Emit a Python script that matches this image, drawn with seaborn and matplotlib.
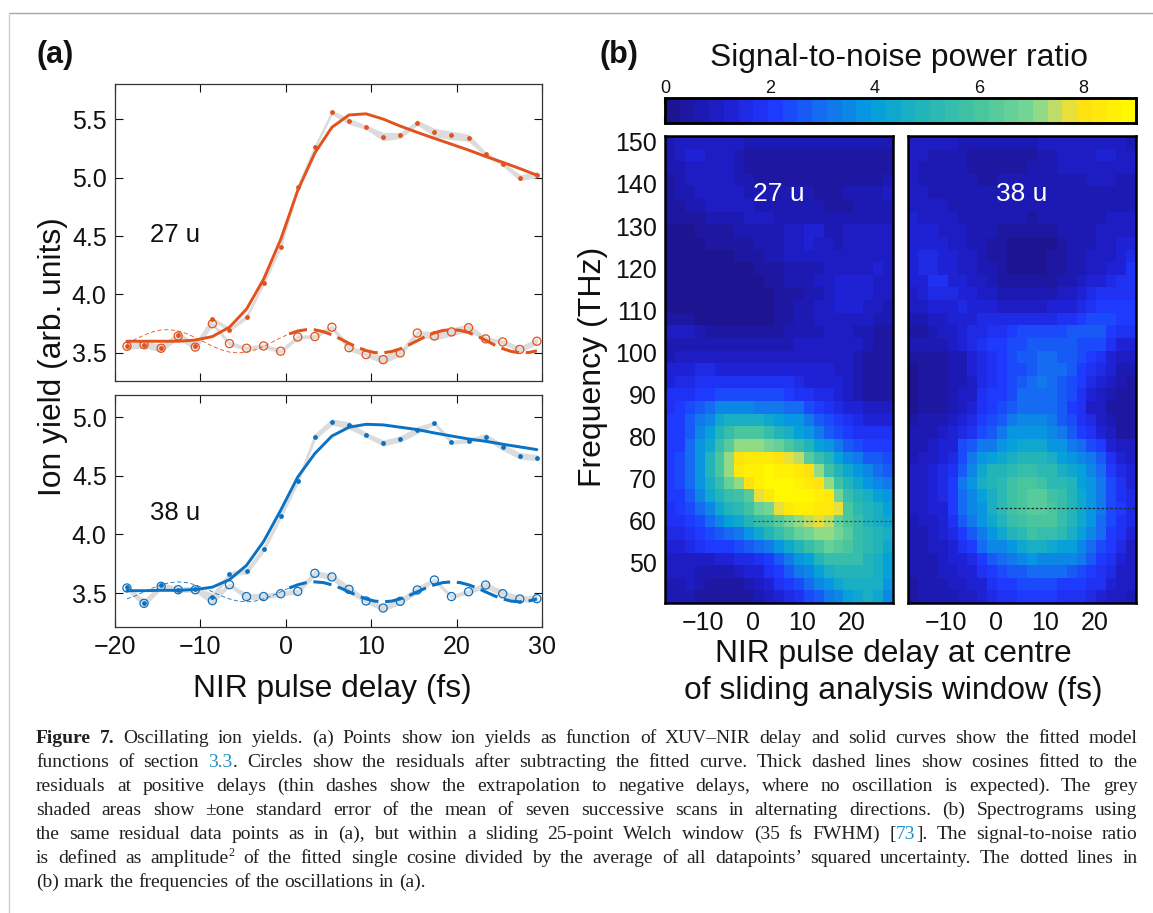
"""
Oscillating ion yields: fitted delay scans (a) and SNR spectrograms (b)
"""

import re

import matplotlib
matplotlib.use("Agg")
import matplotlib.pyplot as plt
from matplotlib.colors import LinearSegmentedColormap
from matplotlib.lines import Line2D
import pandas as pd
import seaborn as sns

# --- panel (a) data ---
delay = [-18.6, -16.6, -14.6, -12.6, -10.6, -8.6, -6.6, -4.6, -2.6, -0.6, 1.4, 3.4, 5.4,
         7.4, 9.4, 11.4, 13.4, 15.4, 17.4, 19.4, 21.4, 23.4, 25.4, 27.4, 29.4]

yield_27 = [3.56, 3.57, 3.545, 3.65, 3.56, 3.79, 3.70, 3.81, 4.10, 4.41, 4.92, 5.26, 5.557,
            5.48, 5.43, 5.35, 5.36, 5.47, 5.386, 5.36, 5.34, 5.20, 5.115, 5.00, 5.025]
fit_27 = [3.60, 3.60, 3.60, 3.60, 3.61, 3.64, 3.72, 3.875, 4.13, 4.47, 4.89, 5.21, 5.43,
          5.535, 5.545, 5.50, 5.44, 5.386, 5.335, 5.285, 5.235, 5.18, 5.13, 5.077, 5.02]
resid_27 = [3.557, 3.57, 3.54, 3.645, 3.55, 3.75, 3.58, 3.54, 3.56, 3.515, 3.636, 3.64, 3.72,
            3.545, 3.486, 3.443, 3.50, 3.67, 3.645, 3.68, 3.716, 3.62, 3.594, 3.53, 3.60]
err_27 = [0.02, 0.02, 0.025, 0.02, 0.02, 0.01, 0.012, 0.012, 0.012, 0.012, 0.012, 0.01, 0.012,
          0.02, 0.012, 0.03, 0.02, 0.015, 0.03, 0.03, 0.025, 0.012, 0.012, 0.02, 0.02]

yield_38 = [3.548, 3.415, 3.565, 3.528, 3.537, 3.466, 3.665, 3.685, 3.876, 4.16, 4.454, 4.835, 4.96,
            4.93, 4.85, 4.78, 4.815, 4.89, 4.95, 4.787, 4.80, 4.835, 4.745, 4.67, 4.655]
fit_38 = [3.52, 3.52, 3.523, 3.523, 3.53, 3.55, 3.614, 3.736, 3.94, 4.206, 4.49, 4.69, 4.84,
          4.915, 4.94, 4.935, 4.915, 4.895, 4.866, 4.84, 4.815, 4.795, 4.77, 4.747, 4.724]
resid_38 = [3.543, 3.412, 3.557, 3.528, 3.528, 3.435, 3.571, 3.47, 3.47, 3.494, 3.514, 3.668, 3.637,
            3.531, 3.432, 3.372, 3.429, 3.526, 3.611, 3.47, 3.511, 3.568, 3.494, 3.449, 3.452]
err_38 = [0.015, 0.02, 0.02, 0.015, 0.015, 0.025, 0.01, 0.02, 0.02, 0.015, 0.015, 0.02, 0.02,
          0.025, 0.015, 0.02, 0.02, 0.025, 0.01, 0.012, 0.012, 0.02, 0.022, 0.022, 0.02]

# cosine fits, 1 fs steps
cos_delay = [-18.6, -17.6, -16.6, -15.6, -14.6, -13.6, -12.6, -11.6, -10.6, -9.6, -8.6, -7.6, -6.6,
             -5.6, -4.6, -3.6, -2.6, -1.6, -0.6, 0.4, 1.4, 2.4, 3.4, 4.4, 5.4, 6.4, 7.4, 8.4, 9.4,
             10.4, 11.4, 12.4, 13.4, 14.4, 15.4, 16.4, 17.4, 18.4, 19.4, 20.4, 21.4, 22.4, 23.4,
             24.4, 25.4, 26.4, 27.4, 28.4, 29.4]
cos_27 = [3.58, 3.618, 3.652, 3.68, 3.697, 3.699, 3.688, 3.665, 3.632, 3.595, 3.558, 3.528, 3.507,
          3.50, 3.507, 3.526, 3.556, 3.592, 3.63, 3.663, 3.687, 3.699, 3.697, 3.682, 3.655, 3.62,
          3.582, 3.548, 3.52, 3.503, 3.501, 3.512, 3.535, 3.568, 3.605, 3.642, 3.672, 3.692, 3.70,
          3.693, 3.674, 3.644, 3.608, 3.57, 3.537, 3.513, 3.501, 3.503, 3.518]
cos_38 = [3.45, 3.477, 3.51, 3.543, 3.57, 3.589, 3.595, 3.589, 3.57, 3.543, 3.51, 3.477, 3.45,
          3.431, 3.425, 3.431, 3.45, 3.477, 3.51, 3.543, 3.57, 3.589, 3.595, 3.589, 3.57, 3.543,
          3.51, 3.477, 3.45, 3.431, 3.425, 3.431, 3.45, 3.477, 3.51, 3.543, 3.57, 3.589, 3.595,
          3.589, 3.57, 3.543, 3.51, 3.477, 3.45, 3.431, 3.425, 3.431, 3.45]

# --- panel (b) data: rows run from the highest frequency to the lowest ---
map_delay = [-16.7, -14.7, -12.7, -10.7, -8.7, -6.7, -4.7, -2.7, -0.7, 1.3, 3.3, 5.3, 7.3, 9.3,
             11.3, 13.3, 15.3, 17.3, 19.3, 21.3, 23.3, 25.3, 27.3]
map_freq = [149.9, 146.9, 143.9, 140.9, 137.9, 134.9, 131.9, 128.9, 125.9, 122.9, 119.9, 116.9, 113.9,
            110.9, 107.9, 104.9, 101.9, 98.9, 95.9, 92.9, 89.9, 86.9, 83.9, 80.9, 77.9, 74.9, 71.9,
            68.9, 65.9, 62.9, 59.9, 56.9, 53.9, 50.9, 47.9, 44.9, 41.9]

snr_27 = [
    [.8, 1.0, 1.1, 1.1, 1.0, 1.0, .9, .9, .8, .7, .7, .6, .6, .6, .6, .6, .6, .6, .6, .6, .6, .6, .6],
    [.7, .9, 1.2, 1.3, 1.0, 1.0, .9, .7, .5, .5, .5, .5, .5, .5, .5, .5, .5, .5, .5, .5, .5, .5, .5],
    [.7, .8, 1.0, 1.1, 1.0, 1.0, .9, .7, .5, .5, .5, .5, .5, .5, .5, .5, .5, .5, .5, .5, .5, .5, .5],
    [.5, .8, .9, 1.0, 1.0, .9, .9, .8, .6, .5, .5, .5, .5, .5, .5, .5, .5, .5, .5, .5, .5, .5, .8],
    [.4, .6, .8, .9, 1.0, .9, .9, .9, .8, .7, .7, .6, .6, .6, .6, .5, .5, .5, .6, .7, .7, .8, .9],
    [.4, .5, .7, .8, .9, .9, .9, .9, .9, .8, .8, .8, .7, .7, .7, .7, .5, .4, .5, .7, .7, .7, .8],
    [.3, .3, .4, .5, .7, .8, .8, .8, .9, .9, .9, .8, .8, .8, .8, .8, .7, .6, .7, .8, .8, .8, .7],
    [.2, .2, .2, .3, .3, .4, .5, .6, .6, .7, .7, .8, .9, 1.1, 1.2, 1.2, .8, .8, .9, 1.0, 1.0, 1.0, 1.0],
    [.2, .2, .2, .2, .3, .3, .3, .3, .5, .7, .8, .8, .9, 1.1, 1.2, 1.1, .9, .7, 1.0, 1.0, 1.0, 1.0, 1.0],
    [.2, .2, .2, .2, .2, .2, .2, .3, .3, .5, .6, .7, .9, 1.0, 1.0, 1.0, 1.1, 1.1, 1.1, 1.0, 1.0, 1.0, .9],
    [.2, .2, .2, .2, .2, .2, .2, .2, .2, .3, .4, .5, .6, .7, .7, .8, 1.0, 1.0, 1.1, 1.1, 1.1, 1.2, .9],
    [.2, .2, .2, .2, .2, .2, .2, .2, .2, .2, .3, .5, .6, .8, .8, .9, 1.0, 1.2, 1.3, 1.3, 1.2, 1.0, .9],
    [.2, .2, .2, .2, .2, .2, .2, .2, .2, .2, .2, .3, .4, .5, .8, .8, 1.0, 1.2, 1.3, 1.3, 1.3, 1.0, .9],
    [.2, .2, .2, .2, .2, .2, .2, .2, .2, .2, .2, .3, .4, .7, .8, .9, 1.0, 1.2, 1.3, 1.3, 1.0, .9, .6],
    [.3, .3, .3, .2, .2, .2, .2, .2, .2, .2, .2, .3, .4, .6, .8, .9, 1.0, 1.1, 1.1, 1.0, .9, .8, .6],
    [.9, .9, .9, .6, .4, .3, .3, .3, .3, .3, .4, .5, .6, .6, .8, .8, .9, .9, .9, .8, .7, .5, .4],
    [.6, .7, .7, .7, .7, .6, .6, .6, .6, .6, .6, .7, .7, .9, 1.0, 1.0, 1.0, 1.0, 1.0, .9, .7, .5, .5],
    [.8, .9, 1.0, 1.0, .9, .9, .9, .9, .9, 1.0, 1.0, 1.0, 1.1, 1.1, 1.1, 1.1, 1.1, 1.0, .9, .7, .5, .5, .5],
    [1.2, 1.3, 1.4, 1.5, 1.5, 1.4, 1.4, 1.4, 1.4, 1.4, 1.4, 1.4, 1.3, 1.3, 1.3, 1.2, 1.2, 1.1, .9, .7, .5, .4, .4],
    [1.4, 1.5, 1.6, 1.7, 1.7, 1.9, 1.9, 1.9, 1.9, 1.9, 1.8, 1.8, 1.7, 1.6, 1.4, 1.3, 1.3, 1.2, 1.0, .7, .4, .4, .4],
    [1.7, 1.8, 1.9, 2.1, 2.2, 2.4, 2.5, 2.5, 2.5, 2.4, 2.3, 2.3, 2.1, 1.9, 1.7, 1.5, 1.5, 1.4, 1.1, .8, .5, .5, .5],
    [1.8, 2.0, 2.4, 2.7, 3.0, 3.4, 3.6, 3.6, 3.4, 3.3, 3.3, 3.3, 3.0, 2.9, 2.4, 2.2, 1.9, 1.6, 1.4, 1.2, 1.1, 1.0, 1.0],
    [2.0, 2.1, 2.7, 3.1, 3.6, 4.3, 4.6, 4.7, 4.6, 4.5, 4.4, 4.2, 3.9, 3.7, 3.2, 2.8, 2.4, 2.1, 1.7, 1.5, 1.3, 1.3, 1.3],
    [2.0, 2.2, 2.8, 3.4, 4.0, 5.0, 5.6, 6.1, 6.1, 6.1, 5.6, 5.0, 4.5, 4.1, 3.8, 3.2, 2.7, 2.4, 2.1, 1.9, 1.7, 1.7, 1.7],
    [2.0, 2.2, 2.9, 3.7, 4.3, 5.5, 6.3, 7.3, 7.3, 7.3, 6.8, 6.5, 6.0, 5.6, 5.0, 4.2, 3.7, 3.2, 2.8, 2.4, 2.2, 2.0, 2.0],
    [2.1, 2.3, 3.0, 3.8, 4.8, 6.0, 7.2, 8.0, 8.2, 8.3, 8.3, 8.1, 7.7, 7.4, 6.3, 5.6, 4.9, 4.2, 3.6, 3.1, 2.8, 2.6, 2.5],
    [2.1, 2.3, 3.0, 3.8, 4.8, 6.0, 7.3, 8.2, 8.6, 8.7, 8.8, 8.7, 8.6, 8.3, 8.1, 7.3, 5.9, 4.9, 4.4, 3.9, 3.4, 3.0, 2.8],
    [2.1, 2.3, 3.0, 3.8, 4.6, 5.6, 6.5, 7.3, 8.1, 8.7, 8.9, 8.9, 8.8, 8.7, 8.3, 8.1, 7.2, 5.7, 5.0, 4.4, 3.9, 3.4, 3.2],
    [2.0, 2.2, 2.8, 3.4, 4.3, 5.0, 5.4, 5.9, 6.3, 7.6, 8.2, 8.9, 8.9, 8.9, 8.8, 8.5, 8.2, 6.9, 5.6, 5.0, 4.5, 4.0, 3.7],
    [1.9, 2.1, 2.5, 3.0, 3.6, 4.3, 4.8, 5.3, 5.9, 6.5, 7.0, 7.7, 8.3, 8.6, 8.6, 8.4, 8.2, 7.6, 6.0, 5.3, 4.8, 4.5, 4.2],
    [1.7, 1.9, 2.1, 2.5, 3.0, 3.5, 4.0, 4.4, 4.9, 5.4, 5.8, 6.3, 6.8, 7.2, 7.5, 7.6, 7.4, 6.6, 6.0, 5.4, 5.0, 4.7, 4.4],
    [1.5, 1.6, 1.9, 2.1, 2.4, 2.7, 3.0, 3.3, 3.7, 4.3, 5.0, 5.5, 6.1, 6.6, 7.0, 7.2, 7.2, 6.8, 6.2, 5.6, 5.2, 5.0, 4.6],
    [1.2, 1.3, 1.5, 1.7, 2.0, 2.1, 2.1, 2.4, 2.7, 3.0, 3.3, 3.8, 4.4, 5.0, 5.5, 6.0, 6.5, 6.4, 6.0, 5.6, 5.2, 4.9, 4.4],
    [1.0, 1.0, 1.1, 1.1, 1.1, 1.3, 1.4, 1.5, 1.6, 1.8, 2.2, 2.8, 3.3, 3.8, 4.2, 4.8, 5.4, 5.6, 5.6, 5.4, 5.0, 4.7, 4.2],
    [.9, .9, .9, .8, .7, .7, .7, 1.0, 1.2, 1.4, 1.7, 2.1, 2.6, 3.1, 3.6, 4.1, 4.5, 4.9, 5.0, 5.0, 4.9, 4.6, 4.0],
    [.7, .8, .9, .6, .4, .4, .4, .5, .8, 1.0, 1.3, 1.7, 2.1, 2.4, 2.9, 3.4, 3.8, 4.3, 4.5, 4.6, 4.7, 4.5, 3.8],
    [.6, .7, .8, .5, .3, .3, .4, .4, .5, .7, 1.0, 1.3, 1.6, 1.8, 2.3, 2.7, 3.1, 3.5, 4.0, 4.3, 4.5, 4.4, 3.6],
]

snr_38 = [
    [1.0, 1.0, 1.1, 1.0, 1.0, .8, .7, .7, .6, .7, .7, .7, .8, .9, 1.0, 1.0, 1.0, 1.0, 1.0, 1.0, .9, .9, .8],
    [.9, .9, .8, .8, .8, .6, .5, .4, .4, .4, .4, .4, .5, .6, .8, .9, 1.0, 1.0, 1.1, 1.2, 1.2, .9, .9],
    [1.0, .8, .8, .8, .8, .6, .5, .4, .4, .4, .4, .5, .6, .7, .8, .9, 1.0, 1.0, 1.0, 1.0, 1.0, 1.0, .9],
    [1.0, .8, .8, .8, .8, .6, .6, .5, .5, .6, .6, .6, .6, .7, .7, .7, .8, .8, .9, .9, .9, .8, .8],
    [1.1, .9, .8, .8, .8, .7, .6, .6, .7, .7, .7, .7, .7, .6, .6, .6, .7, .8, .8, .8, .8, .8, .8],
    [1.1, 1.0, 1.0, .9, .8, .8, .7, .7, .7, .6, .6, .6, .6, .6, .6, .6, .7, .7, .8, .8, .8, .8, .8],
    [1.2, 1.1, 1.1, 1.0, .9, .8, .7, .7, .6, .6, .6, .6, .5, .6, .6, .6, .7, .7, .8, .8, .9, .9, .9],
    [1.3, 1.3, 1.2, 1.1, 1.0, .9, .8, .7, .6, .5, .5, .3, .3, .4, .5, .6, .7, .8, .8, .9, 1.0, 1.1, 1.1],
    [1.4, 1.4, 1.4, 1.3, 1.1, 1.0, .8, .6, .5, .3, .2, .2, .2, .2, .2, .4, .7, .8, .8, 1.0, 1.1, 1.2, 1.3],
    [1.4, 1.6, 1.6, 1.4, 1.2, 1.1, .9, .6, .5, .3, .2, .2, .2, .2, .3, .4, .6, .8, 1.0, 1.1, 1.1, 1.4, 1.6],
    [1.4, 1.6, 1.6, 1.4, 1.3, 1.1, .9, .7, .6, .4, .2, .2, .2, .2, .3, .4, .6, .8, 1.0, 1.1, 1.2, 1.4, 1.7],
    [1.3, 1.4, 1.7, 1.7, 1.4, 1.2, 1.0, .9, .8, .4, .3, .3, .3, .4, .5, .6, .8, 1.1, 1.3, 1.4, 1.5, 1.7, 1.8],
    [1.0, 1.2, 1.6, 1.6, 1.5, 1.3, 1.2, 1.1, 1.0, .8, .8, .8, .8, .8, .8, 1.0, 1.1, 1.4, 1.6, 1.8, 1.9, 1.9, 1.9],
    [1.0, 1.1, 1.3, 1.3, 1.4, 1.5, 1.3, 1.2, 1.2, 1.1, 1.1, 1.0, 1.0, 1.0, 1.2, 1.2, 1.4, 1.5, 1.7, 2.1, 2.2, 2.1, 2.0],
    [.7, .8, 1.0, 1.1, 1.3, 1.3, 1.4, 1.5, 1.6, 1.6, 1.6, 1.6, 1.6, 1.6, 1.6, 1.7, 1.9, 2.2, 2.3, 2.5, 2.5, 2.2, 2.1],
    [.4, .5, .7, .9, 1.1, 1.3, 1.5, 1.6, 1.9, 1.9, 2.0, 2.3, 2.5, 2.5, 2.5, 2.5, 2.6, 2.7, 2.7, 2.6, 2.2, 1.9, 1.9],
    [.7, .6, .7, .8, 1.0, 1.4, 1.6, 1.8, 2.0, 2.2, 2.5, 2.5, 2.6, 2.7, 2.7, 2.7, 2.6, 2.4, 2.4, 2.3, 1.7, 1.3, 1.2],
    [.3, .4, .4, .5, .7, .7, 1.4, 1.6, 1.7, 2.0, 2.4, 2.8, 2.8, 2.9, 2.9, 2.8, 2.6, 2.4, 2.0, 1.8, 1.4, 1.0, 1.0],
    [.2, .3, .4, .5, .6, .7, 1.3, 1.6, 1.7, 2.0, 2.4, 2.5, 2.8, 3.0, 3.0, 3.0, 2.6, 2.2, 1.7, 1.5, 1.2, .7, .7],
    [.2, .3, .4, .5, .6, .8, 1.1, 1.6, 1.7, 2.1, 2.4, 2.6, 2.9, 3.2, 3.0, 2.8, 2.5, 2.0, 1.6, 1.3, 1.0, .6, .5],
    [.2, .3, .4, .5, .6, .9, 1.1, 1.7, 2.0, 2.2, 2.4, 2.9, 3.0, 3.0, 3.0, 2.8, 2.3, 1.8, 1.4, 1.1, .7, .4, .3],
    [.2, .3, .4, .4, .7, 1.0, 1.3, 1.8, 2.0, 2.4, 2.7, 2.9, 3.0, 3.0, 3.0, 2.7, 2.2, 1.7, 1.1, .9, .5, .3, .3],
    [.5, .6, .6, .7, 1.1, 1.3, 1.6, 2.1, 2.3, 2.8, 3.2, 3.5, 3.6, 3.4, 3.2, 2.8, 2.4, 1.9, 1.5, 1.1, .6, .4, .3],
    [.7, .7, .8, 1.0, 1.4, 1.6, 1.9, 2.5, 2.8, 3.2, 3.7, 3.9, 3.9, 3.7, 3.4, 3.2, 2.7, 2.2, 1.8, 1.3, .9, .5, .3],
    [.7, .8, 1.0, 1.2, 1.4, 2.3, 2.6, 3.1, 3.3, 3.7, 4.0, 4.3, 4.3, 4.3, 3.9, 3.7, 3.3, 2.9, 2.5, 2.0, 1.4, 1.0, .9],
    [.8, 1.0, 1.1, 1.3, 1.5, 2.3, 3.2, 3.7, 4.1, 4.4, 4.7, 4.8, 4.9, 4.9, 4.6, 4.2, 3.9, 3.5, 3.2, 2.6, 1.9, 1.3, .9],
    [.9, 1.1, 1.2, 1.5, 1.9, 2.7, 3.6, 4.3, 4.8, 5.0, 5.2, 5.4, 5.4, 5.3, 5.1, 4.7, 4.3, 4.0, 3.4, 2.9, 2.2, 1.6, 1.3],
    [1.0, 1.1, 1.3, 1.6, 2.2, 3.2, 3.8, 4.5, 4.8, 5.2, 5.8, 6.0, 6.0, 5.7, 5.3, 5.2, 4.8, 4.2, 3.7, 3.1, 2.5, 1.8, 1.4],
    [1.0, 1.1, 1.2, 1.5, 2.1, 3.0, 3.6, 4.2, 4.6, 5.3, 5.9, 6.1, 6.4, 6.4, 5.9, 5.5, 5.0, 4.3, 3.8, 3.2, 2.5, 1.9, 1.6],
    [1.0, 1.1, 1.2, 1.4, 2.0, 2.9, 3.4, 3.9, 4.5, 5.2, 5.9, 6.0, 6.3, 6.3, 6.0, 5.5, 5.0, 4.4, 3.8, 3.2, 2.5, 2.0, 1.6],
    [.8, 1.0, 1.1, 1.3, 1.9, 2.6, 3.3, 3.7, 4.3, 4.9, 5.6, 5.9, 6.1, 6.1, 6.0, 5.5, 4.9, 4.3, 3.7, 3.0, 2.4, 1.9, 1.6],
    [.7, .8, 1.0, 1.2, 1.5, 2.1, 2.8, 3.3, 3.8, 4.3, 5.0, 5.3, 5.7, 5.6, 5.6, 5.3, 4.7, 4.0, 3.5, 2.9, 2.2, 1.8, 1.3],
    [.7, .8, 1.0, 1.1, 1.4, 1.7, 2.1, 2.9, 3.4, 3.6, 3.9, 4.3, 4.6, 4.6, 4.4, 4.2, 4.0, 3.6, 3.0, 2.5, 2.1, 1.6, 1.1],
    [.6, .6, .8, 1.0, 1.2, 1.4, 1.6, 2.2, 2.7, 3.0, 3.3, 3.6, 3.7, 3.6, 3.6, 3.6, 3.4, 3.1, 2.6, 2.1, 1.8, 1.3, 1.0],
    [.6, .6, .7, .9, 1.0, 1.2, 1.4, 1.7, 2.2, 2.4, 2.7, 2.8, 3.0, 3.0, 3.0, 2.9, 2.8, 2.5, 2.2, 1.9, 1.5, 1.1, .9],
    [.5, .6, .6, .8, .9, 1.0, 1.2, 1.4, 1.7, 2.0, 2.2, 2.4, 2.4, 2.4, 2.3, 2.2, 2.1, 2.0, 1.9, 1.7, 1.4, 1.0, .9],
    [.5, .6, .6, .8, .8, 1.0, 1.1, 1.3, 1.5, 1.7, 1.9, 2.0, 2.1, 2.1, 2.0, 1.9, 1.8, 1.7, 1.5, 1.4, 1.1, .9, .8],
]

# frequencies of the oscillations (dotted lines in b)
osc_freq_27 = 60
osc_freq_38 = 63

# caption: each line is a list of (text, colour, weight, superscript)
BLK = "#231f20"
LNK = "#1f8fc4"
caption = [
    [("Figure 7.", BLK, "bold", False), (" Oscillating ion yields. (a) Points show ion yields as function of XUV\u2013NIR delay and solid curves show the fitted model", BLK, "normal", False)],
    [("functions of section", BLK, "normal", False), (" 3.3", LNK, "normal", False), (". Circles show the residuals after subtracting the fitted curve. Thick dashed lines show cosines fitted to the", BLK, "normal", False)],
    [("residuals at positive delays (thin dashes show the extrapolation to negative delays, where no oscillation is expected). The grey", BLK, "normal", False)],
    [("shaded areas show \u00b1one standard error of the mean of seven successive scans in alternating directions. (b) Spectrograms using", BLK, "normal", False)],
    [("the same residual data points as in (a), but within a sliding 25-point Welch window (35 fs FWHM) [", BLK, "normal", False), ("73", LNK, "normal", False), ("]. The signal-to-noise ratio", BLK, "normal", False)],
    [("is defined as amplitude", BLK, "normal", False), ("2", BLK, "normal", True), (" of the fitted single cosine divided by the average of all datapoints\u2019 squared uncertainty. The dotted lines in", BLK, "normal", False)],
    [("(b) mark the frequencies of the oscillations in (a).", BLK, "normal", False)],
]

ORANGE = "#e2521d"
BLUE = "#0a72c4"
BAND = "#dcdcdc"
W, H = 1153, 913

sns.set_theme(style="ticks")
plt.rcParams["font.family"] = ["Liberation Sans", "DejaVu Sans"]
plt.rcParams["text.color"] = "#111111"
plt.rcParams["xtick.color"] = "#111111"
plt.rcParams["ytick.color"] = "#111111"

fig = plt.figure(figsize=(W / 100, H / 100), dpi=100, facecolor="white")


def px_axes(left, top, right, bottom):
    return fig.add_axes([left / W, 1 - bottom / H, (right - left) / W, (bottom - top) / H])


def draw_scan(ax, dots, fit, resid, err, cos_vals, colour):
    lo = [d - e for d, e in zip(dots, err)]
    hi = [d + e for d, e in zip(dots, err)]
    ax.fill_between(delay, lo, hi, color=BAND, lw=1.0)
    lo = [d - e for d, e in zip(resid, err)]
    hi = [d + e for d, e in zip(resid, err)]
    ax.fill_between(delay, lo, hi, color=BAND, lw=1.0)

    sns.lineplot(x=delay, y=fit, color=colour, lw=2.1, ax=ax, errorbar=None)

    # thin dashes before zero delay, thick ones after
    thin = [i for i, t in enumerate(cos_delay) if t <= 0.4]
    thick = [i for i, t in enumerate(cos_delay) if t >= 0.4]
    ax.plot([cos_delay[i] for i in thin], [cos_vals[i] for i in thin], color=colour, lw=0.6, ls=(0, (5, 3)))
    ax.plot([cos_delay[i] for i in thick], [cos_vals[i] for i in thick], color=colour, lw=2.2, ls=(0, (6, 2.2)))

    sns.scatterplot(x=delay, y=dots, color=colour, s=12, linewidth=0, ax=ax)
    sns.scatterplot(x=delay, y=resid, facecolor="none", edgecolor=colour, s=34, linewidth=0.9, ax=ax)

    ax.set_xlim(-20, 30)
    ax.set_xticks([-20, -10, 0, 10, 20, 30])
    ax.tick_params(which="both", direction="in", top=True, right=True, length=5.5, width=0.8,
                   labelsize=18, pad=6)
    for s in ax.spines.values():
        s.set_linewidth(0.9)
        s.set_color("#333333")
    ax.patch.set_alpha(0)


# panel (a)
ax_27 = px_axes(115, 84, 542, 381)
draw_scan(ax_27, yield_27, fit_27, resid_27, err_27, cos_27, ORANGE)
ax_27.set_ylim(3.26, 5.8)
ax_27.set_yticks([3.5, 4.0, 4.5, 5.0, 5.5])
ax_27.set_yticklabels(["3.5", "4.0", "4.5", "5.0", "5.5"])
ax_27.tick_params(labelbottom=False)
ax_27.text(0.081, 0.49, "27 u", transform=ax_27.transAxes, fontsize=18.5, va="center")

ax_38 = px_axes(115, 395, 542, 627)
draw_scan(ax_38, yield_38, fit_38, resid_38, err_38, cos_38, BLUE)
ax_38.set_ylim(3.21, 5.19)
ax_38.set_yticks([3.5, 4.0, 4.5, 5.0])
ax_38.set_yticklabels(["3.5", "4.0", "4.5", "5.0"])
ax_38.set_xticklabels(["\u221220", "\u221210", "0", "10", "20", "30"])
ax_38.text(0.081, 0.49, "38 u", transform=ax_38.transAxes, fontsize=18.5, va="center")

fig.text(332 / W, 1 - 689 / H, "NIR pulse delay (fs)", fontsize=22.9, ha="center", va="center")
fig.text(53 / W, 1 - 357 / H, "Ion yield (arb. units)", fontsize=22.9, ha="center", va="center", rotation=90)
fig.text(36 / W, 1 - 55 / H, "(a)", fontsize=22, fontweight="bold", ha="left", va="center")
fig.text(599 / W, 1 - 55 / H, "(b)", fontsize=22, fontweight="bold", ha="left", va="center")

# panel (b)
snr_cmap = LinearSegmentedColormap.from_list(
    "snr",
    [(0.0, "#1c1490"), (1 / 9, "#1e1ecc"), (2 / 9, "#1f38ff"), (3 / 9, "#1470f0"), (4 / 9, "#05a0dc"),
     (5 / 9, "#25b5b8"), (6 / 9, "#45c4a0"), (7 / 9, "#75d595"), (7.3 / 9, "#95dc85"), (7.6 / 9, "#c8dc60"),
     (7.9 / 9, "#f0e030"), (8.1 / 9, "#ffe010"), (1.0, "#fff800")],
    N=32,
)

ax_b1 = px_axes(665, 136, 893, 603)
ax_b2 = px_axes(908, 136, 1136, 603)
cax = px_axes(665, 98, 1136, 123)


def to_col(t):
    # delay in fs to heatmap column position
    step = map_delay[1] - map_delay[0]
    return (t - map_delay[0]) / step + 0.5


def to_row(f):
    # frequency in THz to heatmap row position
    step = map_freq[0] - map_freq[1]
    return (map_freq[0] - f) / step + 0.5


def draw_map(ax, values, label, osc_freq, line_colour, **kws):
    df = pd.DataFrame(values, index=map_freq, columns=map_delay)
    sns.heatmap(df, ax=ax, cmap=snr_cmap, vmin=0, vmax=9, xticklabels=False, yticklabels=False, **kws)
    ax.set_xticks([to_col(t) for t in [-15, -10, -5, 0, 5, 10, 15, 20, 25]])
    ax.set_xticklabels(["", "\u221210", "", "0", "", "10", "", "20", ""])
    ax.set_yticks([to_row(f) for f in range(50, 151, 10)])
    ax.tick_params(direction="in", top=True, right=True, bottom=True, left=True, length=4.5, width=1.5,
                   color="black", labelsize=18, pad=6)
    for s in ax.spines.values():
        s.set_visible(True)
        s.set_linewidth(1.8)
        s.set_color("black")
    ax.add_line(Line2D([to_col(0), to_col(28)], [to_row(osc_freq)] * 2, color=line_colour, lw=0.9, ls=(0, (2, 1.5))))
    ax.text(0.5, 0.876, label, transform=ax.transAxes, color="white", fontsize=19, ha="center", va="center")


draw_map(ax_b1, snr_27, "27 u", osc_freq_27, "#2a5a5a", cbar_ax=cax, cbar_kws={"orientation": "horizontal"})
draw_map(ax_b2, snr_38, "38 u", osc_freq_38, "#1a2a30", cbar=False)
ax_b1.set_yticklabels([str(f) for f in range(50, 151, 10)], rotation=0)
ax_b2.set_yticklabels([])

cax.xaxis.set_ticks_position("both")
cax.set_xticks([0, 2, 4, 6, 8])
cax.set_xticklabels(["0", "2", "4", "6", "8"])
cax.tick_params(axis="x", direction="in", labeltop=True, labelbottom=False, top=True, bottom=True, length=4.5,
                width=1.5, color="black", labelsize=13, pad=1)
for s in cax.spines.values():
    s.set_visible(True)
    s.set_linewidth(1.8)
    s.set_color("black")

fig.text(899 / W, 1 - 58 / H, "Signal-to-noise power ratio", fontsize=22.9, ha="center", va="center")
fig.text(893 / W, 1 - 654 / H, "NIR pulse delay at centre", fontsize=22.9, ha="center", va="center")
fig.text(893 / W, 1 - 691 / H, "of sliding analysis window (fs)", fontsize=22.9, ha="center", va="center")
fig.text(593 / W, 1 - 367 / H, "Frequency (THz)", fontsize=23, ha="center", va="center", rotation=90)

# page frame
fig.add_artist(Line2D([9 / W, 1], [1 - 13.5 / H] * 2, color="#a8a8a8", lw=1.0))
fig.add_artist(Line2D([9 / W, 9 / W], [0, 1 - 13.5 / H], color="#cccccc", lw=1.0))

# caption, set line by line and justified to the text block
renderer = fig.canvas.get_renderer()
CAP_LEFT, CAP_RIGHT, CAP_SIZE = 36, 1138, 14.0


def set_caption_line(runs, baseline, justify):
    pieces = []
    for text, colour, weight, sup in runs:
        for m in re.finditer(r"(\s*)(\S+)", text):
            t = fig.text(0, 0, m.group(2), family="Liberation Serif", color=colour, fontweight=weight,
                         fontsize=CAP_SIZE * (0.62 if sup else 1), va="baseline")
            pieces.append((t, bool(m.group(1)), sup))
    widths = [p[0].get_window_extent(renderer).width + 0.6 for p in pieces]
    n_gaps = sum(p[1] for p in pieces)
    gap = (CAP_RIGHT - CAP_LEFT - sum(widths)) / n_gaps if justify else 4.6
    x = CAP_LEFT
    for (t, spaced, sup), w in zip(pieces, widths):
        if spaced:
            x += gap
        t.set_position((x / W, 1 - (baseline - (7 if sup else 0)) / H))
        x += w


for n, runs in enumerate(caption):
    set_caption_line(runs, 743 + 24 * n, n < len(caption) - 1)

fig.savefig("out.png", dpi=100)
